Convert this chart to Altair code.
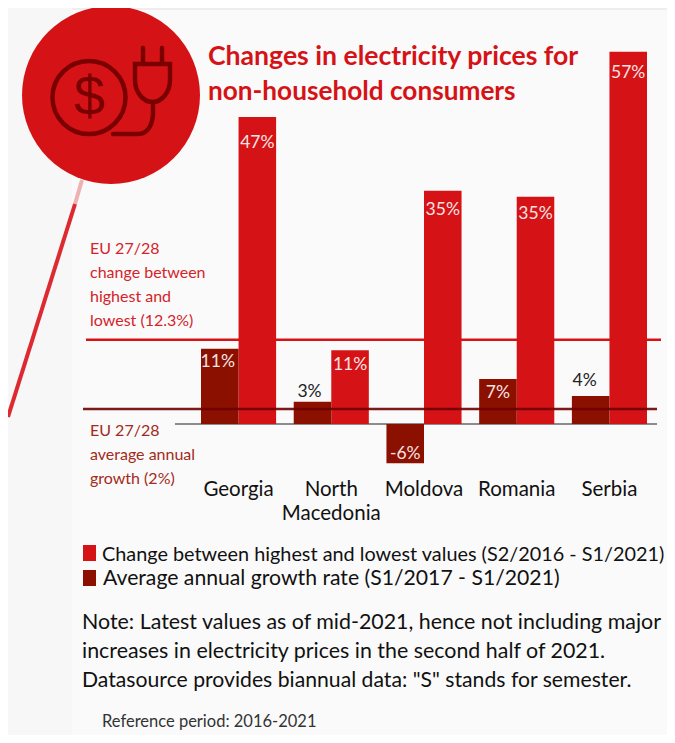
import altair as alt
import pandas as pd

countries = ["Georgia", "North\nMacedonia", "Moldova", "Romania", "Serbia"]
change_values = [47, 11.3, 35.7, 34.8, 57]
growth_values = [11.5, 3.4, -6, 6.9, 4.3]
change_labels = ["47%", "11%", "35%", "35%", "57%"]
growth_labels = ["11%", "3%", "-6%", "7%", "4%"]
eu_change_line = [12.9]
eu_growth_line = [2.3]

RED = "#d51317"
DARK = "#8b1000"
FONT = "Lato"
W, H = 659, 727

rows = []
for c, v, l in zip(countries, change_values, change_labels):
    rows.append({"country": c, "series": "b_change", "value": v, "label": l})
for c, v, l in zip(countries, growth_values, growth_labels):
    rows.append({"country": c, "series": "a_growth", "value": v, "label": l})
df = pd.DataFrame(rows)

yscale = alt.Scale(domain=[-47.63, 63.7], range=[H, 0], nice=False, zero=False)
xscale = alt.Scale(domain=countries, range=[193, 639], paddingInner=0.19, paddingOuter=0)
X = alt.X("country:N", scale=xscale, axis=None, sort=countries)
XO = alt.XOffset("series:N", scale=alt.Scale(domain=["a_growth", "b_change"], paddingInner=0, paddingOuter=0))
Y = alt.Y("value:Q", scale=yscale, axis=None)


def P(x):
    return alt.value(x - 8)


def Q(y):
    return alt.value(y - 8)


def box(x0, x1, y0, y1, color, **kw):
    return alt.Chart(pd.DataFrame({"a": [0]})).mark_rect(color=color, **kw).encode(
        x=P(x0), x2=P(x1), y=Q(y0), y2=Q(y1))


def seg(x0, y0, x1, y1, color, w):
    return alt.Chart(pd.DataFrame({"a": [0]})).mark_rule(color=color, strokeWidth=w).encode(
        x=P(x0), x2=P(x1), y=Q(y0), y2=Q(y1))


def txt(s, x, y, size, color, weight="normal", align="left", font=FONT):
    return alt.Chart(pd.DataFrame({"t": [s]})).mark_text(
        align=align, baseline="middle", fontSize=size, color=color, fontWeight=weight, font=font
    ).encode(text="t:N", x=P(x), y=Q(y))


layers = [
    box(8, 72, 8, 735, "#f7f7f7"),
    box(72, 667, 8, 735, "#fafafa"),
    box(72, 667, 8, 10, "#f1eded"),
    seg(82, 180, 75, 204, "#eeb2b2", 4),
    seg(75, 204, 8, 417, "#dc2a30", 4),
]

# EU rules and bars
layers.append(alt.Chart(pd.DataFrame({"value": eu_change_line})).mark_rule(color=RED, strokeWidth=2.5).encode(
    y=Y, x=P(86), x2=P(661)))
layers.append(alt.Chart(pd.DataFrame({"value": [0]})).mark_rule(color="#8c8c8c", strokeWidth=2).encode(
    y=Y, x=P(175), x2=P(657)))
layers.append(alt.Chart(df).mark_bar().encode(
    x=X, xOffset=XO, y=Y, y2=alt.datum(0),
    color=alt.Color("series:N", scale=alt.Scale(domain=["a_growth", "b_change"], range=[DARK, RED]), legend=None),
))
layers.append(alt.Chart(pd.DataFrame({"value": eu_growth_line})).mark_rule(color="#6e0000", strokeWidth=2.5, opacity=0.9).encode(
    y=Y, x=P(83), x2=P(657)))

# value labels: per-label nudges and colour, keyed by series and country position
LIGHT = "#f6e3e3"
INK = "#222222"
label_style = {
    ("b_change", 0): (26, 0, LIGHT), ("b_change", 1): (15, 0, LIGHT), ("b_change", 2): (19, 0, LIGHT),
    ("b_change", 3): (17, 0, LIGHT), ("b_change", 4): (21, 0, LIGHT),
    ("a_growth", 0): (13, -2, LIGHT), ("a_growth", 1): (-10, -3, INK), ("a_growth", 2): (-9, 0, LIGHT),
    ("a_growth", 3): (14, 0, LIGHT), ("a_growth", 4): (-15, -6, INK),
}
for row in rows:
    dy, dx, col = label_style[(row["series"], countries.index(row["country"]))]
    layers.append(alt.Chart(pd.DataFrame([row])).mark_text(
        baseline="middle", align="center", fontSize=17.5, color=col, font=FONT, dy=dy, dx=dx
    ).encode(x=X, xOffset=XO, y=Y, text="label:N"))

# category labels
layers.append(alt.Chart(pd.DataFrame({"country": countries})).mark_text(
    baseline="top", align="center", fontSize=20.5, color="#111111", font=FONT, lineBreak="\n", lineHeight=24
).encode(x=X, y=Q(480), text="country:N"))

# emblem
layers.append(alt.Chart(pd.DataFrame({"a": [0]})).mark_point(
    shape="circle", filled=True, color=RED, opacity=1, size=31684
).encode(x=P(111), y=Q(95)))
layers.append(alt.Chart(pd.DataFrame({"a": [0]})).mark_point(
    shape="circle", filled=False, color="#7a0000", opacity=1, size=5329, strokeWidth=4.5
).encode(x=P(89), y=Q(97.5)))
layers.append(txt("$", 89.5, 98, 56, "#7a0000", align="center", font="Liberation Sans"))
plug = ("M-0.07,-0.37 L-0.07,-0.52 M0.12,-0.37 L0.12,-0.52 "
        "M-0.15,-0.36 L0.2,-0.36 L0.2,-0.2 C0.2,-0.08 0.12,0.02 0.025,0.02 "
        "C-0.07,0.02 -0.15,-0.08 -0.15,-0.2 Z "
        "M0.03,0.02 L0.03,0.12 C0.03,0.26 -0.03,0.34 -0.12,0.34 L-0.37,0.34")
layers.append(alt.Chart(pd.DataFrame({"a": [0]})).mark_point(
    shape=plug, filled=False, color="#7a0000", opacity=1, size=40000, strokeWidth=4.5, strokeCap="round"
).encode(x=P(150), y=Q(100)))

# titles and notes
layers += [
    txt("Changes in electricity prices for", 208, 57, 26.6, RED, "bold"),
    txt("non-household consumers", 208, 92, 26.2, RED, "bold"),
    txt("EU 27/28", 90, 249, 16, "#d4242a"),
    txt("change between", 90, 273, 16, "#d4242a"),
    txt("highest and", 90, 297, 16, "#d4242a"),
    txt("lowest (12.3%)", 90, 321, 16, "#d4242a"),
    txt("EU 27/28", 90, 431, 16, "#a32a20"),
    txt("average annual", 90, 455, 16, "#a32a20"),
    txt("growth (2%)", 90, 479, 16, "#a32a20"),
    box(83, 96, 545, 561, RED),
    box(83, 96, 570, 586, DARK),
    txt("Change between highest and lowest values (S2/2016 - S1/2021)", 102, 555, 19.85, "#111111"),
    txt("Average annual growth rate (S1/2017 - S1/2021)", 103, 579, 21.2, "#111111"),
    txt("Note: Latest values as of mid-2021, hence not including major", 82, 623, 21.4, "#111111"),
    txt("increases in electricity prices in the second half of 2021.", 82, 652, 21.4, "#111111"),
    txt("Datasource provides biannual data: \"S\" stands for semester.", 82, 681, 21.2, "#111111"),
    txt("Reference period: 2016-2021", 102, 722, 16.5, "#333333"),
]

chart = alt.layer(*layers).properties(
    width=W, height=H, padding=0, background="white",
    autosize=alt.AutoSizeParams(type="none"),
).configure_view(stroke=None).resolve_scale(color="independent")

chart.save("out.html", embed_options={"renderer": "svg", "actions": False})
